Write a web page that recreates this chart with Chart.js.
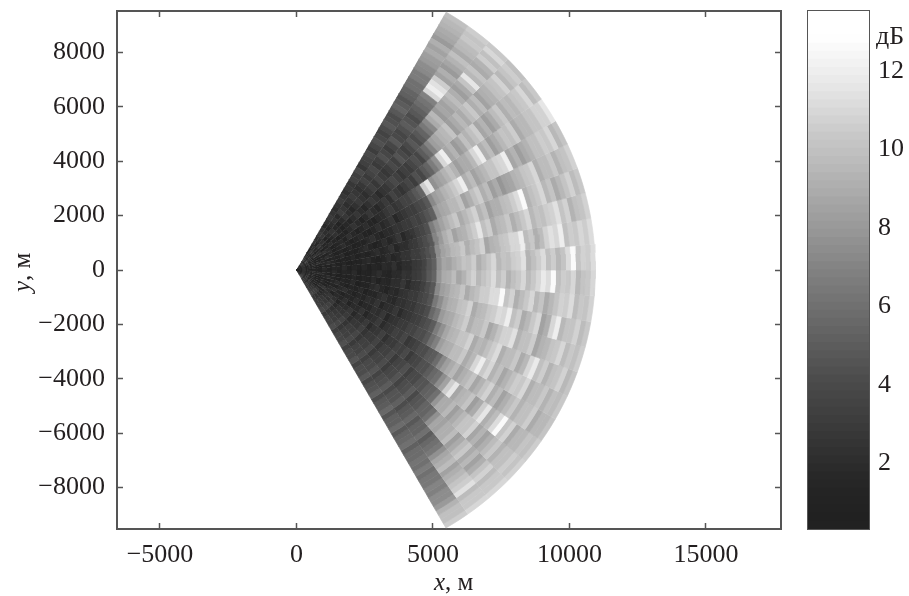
<!DOCTYPE html>
<html><head><meta charset="utf-8">
<style>
html,body{margin:0;padding:0;background:#fff;width:909px;height:596px;overflow:hidden}
canvas{position:absolute;top:0;filter:blur(0.45px)}
#main{left:0}#bar{left:800px}
</style>
<script src="https://cdn.jsdelivr.net/npm/chart.js@4"></script>
</head><body>
<canvas id="main" width="909" height="596"></canvas>
<canvas id="bar" width="109" height="596"></canvas>
<script>
const ringEdges=[0,182.5,365,547.5,730,912.5,1095,1277.5,1460,1642.5,1825,2007.5,2190,2372.5,2555,2737.5,2920,3102.5,3285,3467.5,3650,3832.5,4015,4197.5,4380,4562.5,4745,4927.5,5110,5292.5,5475,5657.5,5840,6022.5,6205,6387.5,6570,6752.5,6935,7117.5,7300,7482.5,7665,7847.5,8030,8212.5,8395,8577.5,8760,8942.5,9125,9307.5,9490,9672.5,9855,10037.5,10220,10402.5,10585,10767.5,10950];
const beamEdges=[60,55,50,45,40,35,30,25,20,15,10,5,0,-5,-10,-15,-20,-25,-30,-35,-40,-45,-50,-55,-60];
const beam01=[1.6,2.2,2.6,1.9,1.3,1.8,2.5,2.0,3.0,2.5,1.7,2.3,2.9,2.4,2.0,2.5,3.2,2.7,2.3,2.9,2.8,3.5,3.3,3.9,2.8,3.3,3.6,4.0,3.1,3.7,4.4,3.9,3.5,4.1,4.8,4.3,4.1,4.7,5.4,4.9,4.5,5.1,5.3,5.9,6.0,6.7,6.7,7.3,7.5,8.1,8.3,8.9,8.5,9.1,8.1,8.7,8.8,9.2,9.5,10.0];
const beam02=[1.1,1.7,2.3,1.6,2.8,2.2,1.5,2.0,2.7,2.0,1.4,2.0,2.5,1.9,3.1,2.6,2.0,2.5,3.2,2.7,2.2,2.8,3.6,3.0,3.5,3.9,2.9,3.4,4.3,3.7,3.2,3.8,4.7,4.0,3.7,4.3,5.0,4.5,4.2,4.8,5.1,5.7,6.2,6.8,11.0,12.0,11.4,10.6,8.5,9.1,8.1,8.7,9.2,10.0,8.9,9.5,9.7,10.3,10.1,10.6];
const beam03=[2.5,1.8,0.9,1.5,2.3,1.6,2.8,2.2,1.2,1.8,2.4,1.7,1.3,1.9,2.7,2.1,1.6,2.2,3.0,2.5,2.1,2.7,3.3,2.7,3.7,3.2,2.6,3.1,3.9,3.3,4.5,3.9,3.4,4.0,4.7,4.1,4.8,5.3,6.4,7.2,8.9,9.5,8.0,8.7,8.5,9.1,9.8,9.0,8.3,8.9,10.2,11.6,9.5,10.1,8.9,9.4,10.5,9.9,10.9,10.3];
const beam04=[1.3,1.9,2.6,2.0,0.9,1.4,2.1,1.5,1.1,1.7,2.3,1.7,1.0,1.6,1.5,2.1,2.7,2.1,1.7,2.3,3.0,2.4,1.9,2.5,2.7,3.3,3.9,3.3,2.8,3.4,3.1,3.7,4.3,3.7,5.0,5.8,7.0,8.2,8.7,9.3,9.5,10.1,8.3,8.9,9.5,8.9,9.7,10.3,9.1,9.7,8.5,9.1,9.3,9.9,10.1,10.7,9.5,10.1,10.5,9.9];
const beam05=[1.0,1.6,2.2,1.6,2.8,2.2,0.9,1.5,2.0,1.4,0.8,1.4,1.3,1.9,2.4,1.8,1.2,1.8,2.6,2.0,1.6,2.2,2.9,2.3,3.6,3.0,2.5,3.1,3.7,3.1,4.3,3.7,4.7,5.3,6.7,7.7,11.0,12.0,8.7,9.3,8.1,8.7,9.9,9.3,9.9,10.5,8.7,9.3,8.3,8.9,9.7,10.3,9.1,9.7,9.5,10.1,10.3,10.9,9.7,10.3];
const beam06=[2.3,1.7,0.8,1.3,1.2,1.8,2.4,1.8,0.9,1.5,1.8,1.2,2.2,1.6,1.0,1.6,2.1,1.5,1.2,1.8,2.0,2.6,3.1,2.5,2.9,3.5,3.5,4.1,4.7,5.3,10.6,11.5,7.7,8.3,8.7,9.3,9.9,9.3,8.3,8.9,8.9,9.5,11.0,12.0,9.1,9.7,8.3,8.9,9.5,10.1,9.9,10.5,8.9,9.5,9.5,10.1,10.1,10.7,10.7,11.5];
const beam07=[0.9,1.5,2.1,1.5,0.8,1.2,1.3,1.9,0.8,1.4,2.0,1.4,0.9,1.5,1.9,1.3,1.0,1.6,2.2,1.6,2.1,2.7,1.7,2.3,2.6,3.2,3.2,3.8,4.1,4.7,7.3,8.3,8.7,9.3,9.7,10.3,11.0,12.0,9.1,9.7,8.5,9.1,9.5,10.1,10.1,10.7,11.0,12.0,8.7,9.3,8.3,8.9,9.3,9.9,9.9,10.5,10.3,10.9,9.5,10.1];
const beam08=[1.9,1.3,0.7,1.3,1.1,1.7,2.2,1.6,0.9,1.5,1.1,1.7,0.8,1.2,1.2,1.8,2.3,1.7,1.3,1.9,1.8,2.4,2.4,3.0,2.9,3.5,3.3,3.9,4.5,5.1,8.1,8.7,8.9,9.5,9.5,10.1,8.5,9.1,9.9,10.5,9.1,9.7,8.3,8.9,7.9,8.5,8.7,9.3,9.5,10.1,10.3,10.9,9.1,9.7,9.7,10.3,9.3,9.9,10.1,10.7];
const beam09=[0.8,1.4,1.2,1.8,2.2,1.6,0.8,1.4,1.2,1.8,0.7,1.3,1.0,1.6,2.0,1.4,0.9,1.5,2.1,1.5,2.0,2.6,1.7,2.3,2.7,3.3,3.7,4.3,6.7,7.7,8.5,9.1,9.7,10.3,8.9,9.5,10.1,10.7,9.3,9.9,8.5,9.1,9.1,9.7,9.9,10.5,11.2,12.5,9.3,9.9,10.3,10.9,9.5,10.1,8.9,9.5,10.1,10.7,9.7,10.3];
const beam10=[2.0,1.4,0.8,1.4,1.0,1.6,2.0,1.4,0.7,1.3,1.1,1.7,0.9,1.5,1.1,1.7,2.0,1.4,1.8,2.4,1.5,2.1,2.1,2.7,2.9,3.5,4.1,4.7,7.1,8.1,9.1,9.7,8.5,9.1,9.3,9.9,10.6,11.5,9.9,10.5,8.9,9.5,9.7,10.3,9.1,9.7,10.3,10.9,9.5,10.1,9.9,10.5,10.7,11.3,10.1,10.7,9.3,9.9,10.1,10.7];
const beam11=[0.9,1.5,1.9,1.3,0.7,1.3,1.1,1.7,0.9,1.5,0.7,1.1,1.0,1.6,1.9,1.3,0.8,1.4,2.0,1.4,1.9,2.5,2.5,3.1,3.1,3.7,4.3,4.9,7.5,8.5,8.9,9.5,9.7,10.3,9.1,9.7,10.1,10.7,8.7,9.3,9.5,10.1,10.3,10.9,11.0,12.0,9.7,10.3,9.1,9.7,10.7,11.3,11.0,12.0,9.9,10.5,10.3,10.9,10.5,11.1];
const beam12=[2.2,1.6,0.9,1.5,1.2,1.8,0.8,1.4,1.2,1.8,0.8,1.4,1.1,1.7,0.8,1.4,1.2,1.8,1.7,2.3,1.4,2.0,2.1,2.7,2.9,3.5,4.5,5.1,7.7,8.7,8.5,9.1,9.5,10.1,9.9,10.5,9.1,9.7,10.3,10.9,9.5,10.1,9.9,10.5,10.7,11.3,9.3,9.9,10.5,11.1,9.9,10.5,9.5,10.1,11.2,12.5,10.1,10.7,10.5,11.1];
const beam13=[1.1,1.7,2.0,1.4,0.8,1.4,1.3,1.9,0.9,1.5,1.2,1.8,0.7,1.3,1.0,1.6,2.1,1.5,1.2,1.8,1.8,2.4,2.3,2.9,3.2,3.8,4.7,5.3,7.9,8.9,9.1,9.7,8.7,9.3,10.1,10.7,9.5,10.1,10.5,11.1,9.9,10.5,9.3,9.9,10.3,10.9,9.7,10.3,11.0,11.8,11.2,12.5,9.9,10.5,10.3,10.9,9.5,10.1,10.3,10.9];
const beam14=[0.7,1.3,1.2,1.8,2.2,1.6,0.9,1.5,0.7,1.3,1.1,1.7,0.9,1.5,1.3,1.9,1.0,1.6,1.5,2.1,2.1,2.7,1.9,2.5,2.7,3.3,4.1,4.7,7.3,8.3,8.7,9.3,9.5,10.1,8.9,9.5,9.9,10.5,10.5,11.1,11.2,12.5,10.1,10.7,9.1,9.7,10.3,10.9,9.5,10.1,8.9,9.5,10.1,10.7,10.5,11.1,9.7,10.3,10.1,10.7];
const beam15=[1.2,1.8,0.8,1.4,1.0,1.6,2.0,1.4,0.8,1.4,1.3,1.9,0.7,1.3,1.2,1.8,2.2,1.6,1.2,1.8,1.7,2.3,2.4,3.0,3.0,3.6,3.9,4.5,6.5,7.5,8.5,9.1,9.3,9.9,10.1,10.7,8.9,9.5,9.7,10.3,10.5,11.1,11.0,12.0,9.9,10.5,8.9,9.5,10.3,10.9,8.5,9.1,11.0,12.0,9.5,10.1,10.1,10.7,9.7,10.3];
const beam16=[0.9,1.5,2.1,1.5,0.7,1.3,1.1,1.7,2.0,1.4,0.9,1.5,1.3,1.9,0.8,1.4,1.4,2.0,2.5,1.9,1.6,2.2,2.2,2.8,2.7,3.3,3.5,4.1,5.5,6.5,8.1,8.7,8.9,9.5,9.9,10.5,9.1,9.7,9.7,10.3,8.7,9.3,10.1,10.7,10.7,11.3,9.3,9.9,9.9,10.5,8.7,9.3,9.5,10.1,10.3,10.9,9.7,10.3,9.9,10.5];
const beam17=[2.1,1.5,0.9,1.5,1.3,1.9,0.8,1.4,1.2,1.8,2.2,1.6,1.0,1.6,1.4,2.0,1.8,2.4,1.4,2.0,2.1,2.7,1.8,2.4,2.6,3.2,3.3,3.9,4.3,4.9,6.7,7.7,8.7,9.3,9.5,10.1,10.1,10.7,8.9,9.5,9.3,9.9,10.5,11.1,9.1,9.7,9.7,10.3,8.9,9.5,11.0,11.8,9.9,10.5,9.3,9.9,10.1,10.7,9.5,10.1];
const beam18=[1.0,1.6,2.2,1.6,0.8,1.4,1.3,1.9,2.3,1.7,1.1,1.7,1.5,2.1,1.1,1.7,1.7,2.3,2.1,2.7,1.7,2.3,2.4,3.0,2.9,3.5,3.5,4.1,4.1,4.7,5.9,6.9,8.3,8.9,9.1,9.7,9.7,10.3,8.9,9.5,11.0,12.0,10.3,10.9,9.3,9.9,8.7,9.3,9.9,10.5,10.3,10.9,9.1,9.7,9.7,10.3,9.3,9.9,9.7,10.3];
const beam19=[2.4,1.8,1.0,1.6,1.5,2.1,2.6,2.0,1.2,1.8,1.7,2.3,1.2,1.8,1.9,2.5,1.5,2.1,2.3,2.9,1.9,2.5,2.7,3.3,3.2,3.8,2.6,3.2,3.5,4.1,4.1,4.7,5.0,5.8,7.3,8.3,8.9,9.5,8.5,9.1,9.5,10.1,8.7,9.3,10.1,10.7,9.1,9.7,8.5,9.1,9.7,10.3,9.3,9.9,9.9,10.5,8.9,9.5,9.5,10.1];
const beam20=[1.2,1.8,2.5,1.9,1.1,1.7,1.7,2.3,2.8,2.2,1.5,2.1,2.0,2.6,1.6,2.2,2.3,2.9,1.9,2.5,2.7,3.3,2.3,2.9,2.9,3.5,3.4,4.0,2.9,3.5,3.7,4.3,4.3,4.9,5.5,6.1,7.5,8.5,10.6,11.5,8.7,9.3,9.5,10.1,8.3,8.9,10.6,11.5,9.1,9.7,11.2,12.5,10.1,10.7,8.9,9.5,9.5,10.1,9.9,10.5];
const beam21=[2.6,2.0,1.3,1.9,2.1,2.7,1.6,2.2,2.3,2.9,1.8,2.4,2.4,3.0,2.1,2.7,2.7,3.3,2.4,3.0,3.0,3.6,2.7,3.3,3.3,3.9,2.9,3.5,3.7,4.3,3.3,3.9,4.0,4.6,4.6,5.2,5.3,5.9,7.9,8.9,8.9,9.5,8.3,8.9,9.5,10.1,10.1,10.7,8.7,9.3,8.5,9.1,9.7,10.3,9.3,9.9,9.9,10.5,10.1,10.7];
const beam22=[2.3,2.9,1.7,2.3,2.5,3.1,2.0,2.6,2.7,3.3,2.2,2.8,2.9,3.5,2.5,3.1,3.1,3.7,2.8,3.4,3.3,3.9,3.0,3.6,3.6,4.2,3.2,3.8,4.0,4.6,3.6,4.2,4.3,4.9,3.9,4.5,4.7,5.3,5.3,5.9,7.7,8.7,8.5,9.1,9.1,9.7,8.3,8.9,9.7,10.3,8.9,9.5,8.5,9.1,10.1,10.7,9.7,10.3,10.3,10.9];
const beam23=[2.6,3.2,2.0,2.6,2.8,3.4,2.3,2.9,3.0,3.6,2.6,3.2,3.2,3.8,2.8,3.4,3.4,4.0,3.0,3.6,3.6,4.2,3.3,3.9,3.9,4.5,3.5,4.1,4.3,4.9,3.9,4.5,4.6,5.2,4.2,4.8,4.9,5.5,4.7,5.3,5.3,5.9,5.0,5.6,5.9,6.5,7.7,8.7,9.1,9.7,8.5,9.1,9.5,10.1,10.6,11.4,9.7,10.3,10.3,10.9];
const beam24=[2.9,3.5,2.3,2.9,3.1,3.7,2.6,3.2,3.3,3.9,2.9,3.5,3.5,4.1,3.1,3.7,3.7,4.3,3.3,3.9,3.9,4.5,3.6,4.2,4.2,4.8,3.8,4.4,4.6,5.2,4.2,4.8,4.9,5.5,4.5,5.1,5.2,5.8,4.8,5.4,5.5,6.1,5.1,5.7,5.7,6.3,6.1,6.7,5.9,6.5,6.5,7.1,6.9,7.5,7.5,8.1,9.3,9.9,9.9,10.5];
const beams=[beam01,beam02,beam03,beam04,beam05,beam06,beam07,beam08,beam09,beam10,beam11,beam12,beam13,beam14,beam15,beam16,beam17,beam18,beam19,beam20,beam21,beam22,beam23,beam24];
const xTicks=[-5000,0,5000,10000,15000];
const yTicks=[-8000,-6000,-4000,-2000,0,2000,4000,6000,8000];
const barTicks=[2,4,6,8,10,12];
const cmapGray=[33,33,34,35,36,38,40,43,46,49,52,55,58,61,64,67,70,73,76,80,84,88,92,96,100,104,108,112,116,120,124,128,132,137,141,145,150,154,158,162,166,171,175,179,184,188,192,196,200,205,210,215,220,225,230,234,238,242,246,250,254,255,255,255];
const vMin=0.33,vMax=13.53;

const INK='#555555',TXT='#231f20',FONT='"Liberation Serif"';
const levelOf=v=>Math.max(0,Math.min(cmapGray.length-1,Math.floor((v-vMin)/(vMax-vMin)*cmapGray.length)));
const colorOf=v=>{const g=cmapGray[levelOf(v)];return `rgb(${g},${g},${g})`;};
const rad=d=>d*Math.PI/180;
const polar=(r,a)=>({x:r*Math.cos(rad(a)),y:r*Math.sin(rad(a))});
const SUB=3;
function cell(r0,r1,a0,a1){
  const pts=[];
  for(let k=0;k<=SUB;k++)pts.push(polar(r1,a0+(a1-a0)*k/SUB));
  for(let k=SUB;k>=0;k--)pts.push(polar(r0,a0+(a1-a0)*k/SUB));
  return pts;
}
const cellSets=[];
beams.forEach((vals,b)=>vals.forEach((v,r)=>{
  const c=colorOf(v);
  cellSets.push({data:cell(ringEdges[r],ringEdges[r+1],beamEdges[b],beamEdges[b+1]),
    showLine:true,fill:'shape',backgroundColor:c,borderColor:c,borderWidth:0.7,pointRadius:0,tension:0});
}));

const sideTick={drawOnChartArea:false,drawTicks:true,tickLength:-6,tickWidth:1.5,tickColor:INK};
const border={display:true,color:INK,width:2};
const minusText=v=>String(v).replace('-','\u2212');
const noPad=s=>{s.paddingTop=0;s.paddingBottom=0;s.paddingLeft=0;s.paddingRight=0;};

const axisTitles={id:'axisTitles',afterDraw(chart){
  const ctx=chart.ctx;ctx.save();ctx.fillStyle=TXT;ctx.textBaseline='alphabetic';ctx.textAlign='left';
  const label=(a,b)=>{
    ctx.font=`italic 25px ${FONT}`;const w=ctx.measureText(a).width;ctx.fillText(a,0,0);
    ctx.font=`25px ${FONT}`;ctx.fillText(b,w,0);
  };
  ctx.save();ctx.translate(434,590);label('x',', м');ctx.restore();
  ctx.save();ctx.translate(30,292);ctx.rotate(-Math.PI/2);label('y',', м');ctx.restore();
  ctx.restore();
}};

new Chart(document.getElementById('main'),{
  type:'scatter',
  data:{datasets:cellSets},
  plugins:[axisTitles],
  options:{
    responsive:false,animation:false,events:[],
    layout:{padding:{left:0,top:11,right:128,bottom:0}},
    plugins:{legend:{display:false},tooltip:{enabled:false},title:{display:false}},
    scales:{
      x:{type:'linear',position:'bottom',min:-6575,max:17750,afterFit:s=>{noPad(s);s.height=67;},
        afterBuildTicks:s=>{s.ticks=xTicks.map(value=>({value}));},
        border,grid:sideTick,
        ticks:{color:TXT,font:{family:FONT,size:26},padding:17,autoSkip:false,maxRotation:0,callback:minusText}},
      x2:{type:'linear',position:'top',min:-6575,max:17750,afterFit:s=>{noPad(s);s.height=0;},
        afterBuildTicks:s=>{s.ticks=xTicks.map(value=>({value}));},
        border,grid:sideTick,ticks:{display:false}},
      y:{type:'linear',position:'left',min:-9520,max:9520,afterFit:s=>{noPad(s);s.width=117;},
        afterBuildTicks:s=>{s.ticks=yTicks.map(value=>({value}));},
        border,grid:sideTick,
        ticks:{color:TXT,font:{family:FONT,size:26},padding:18,autoSkip:false,callback:minusText}},
      y2:{type:'linear',position:'right',min:-9520,max:9520,afterFit:s=>{noPad(s);s.width=0;},
        afterBuildTicks:s=>{s.ticks=yTicks.map(value=>({value}));},
        border,grid:sideTick,ticks:{display:false}}
    }
  }
});

const barUnit={id:'barUnit',afterDraw(chart){
  const ctx=chart.ctx;ctx.save();ctx.fillStyle=TXT;ctx.font=`26px ${FONT}`;ctx.textAlign='left';ctx.textBaseline='alphabetic';
  ctx.fillText('дБ',76,44);ctx.restore();
}};
const step=(vMax-vMin)/cmapGray.length;
new Chart(document.getElementById('bar'),{
  type:'bar',
  data:{labels:[''],datasets:cmapGray.map((g,i)=>({
    data:[[vMin+i*step,vMin+(i+1)*step+0.01]],
    backgroundColor:`rgb(${g},${g},${g})`,borderWidth:0,barPercentage:1,categoryPercentage:1
  }))},
  plugins:[barUnit],
  options:{
    responsive:false,animation:false,events:[],
    layout:{padding:{left:8,top:11,right:0,bottom:67}},
    datasets:{bar:{grouped:false}},
    plugins:{legend:{display:false},tooltip:{enabled:false},title:{display:false}},
    scales:{
      x:{type:'category',display:true,border,grid:{display:false},ticks:{display:false},afterFit:s=>{noPad(s);s.height=0;}},
      xt:{type:'linear',position:'top',display:true,border,grid:{display:false},ticks:{display:false},afterFit:s=>{noPad(s);s.height=0;}},
      yl:{type:'linear',position:'left',display:true,min:vMin,max:vMax,border,grid:{display:false},ticks:{display:false},afterFit:s=>{noPad(s);s.width=0;}},
      y:{type:'linear',position:'right',min:vMin,max:vMax,afterFit:s=>{noPad(s);s.width=40;},
        afterBuildTicks:s=>{s.ticks=barTicks.map(value=>({value}));},
        border,grid:{drawOnChartArea:false,drawTicks:true,tickLength:-6,tickWidth:1.5,tickColor:INK},
        ticks:{color:TXT,font:{family:FONT,size:26},padding:15,autoSkip:false}}
    }
  }
});
</script>
</body></html>
